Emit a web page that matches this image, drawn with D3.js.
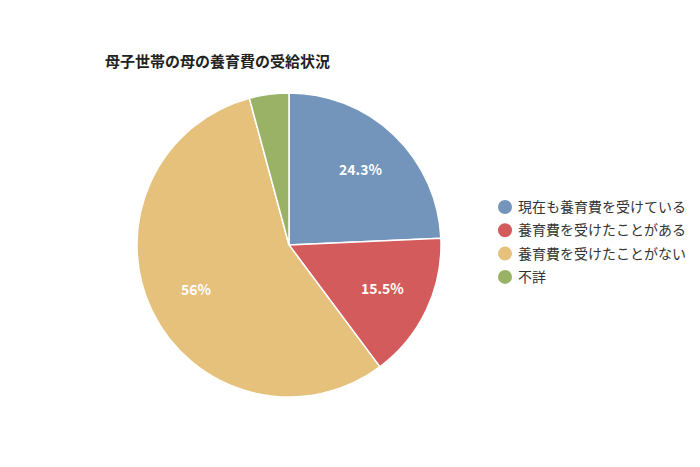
<!DOCTYPE html><html><head><meta charset="utf-8">
<script src="https://cdn.jsdelivr.net/npm/d3@7"></script>
<style>body{margin:0;background:#fff}text{font-family:"Noto Sans CJK JP",sans-serif}</style></head><body>
<svg id="c" width="700" height="467"></svg>
<script>
const categories=["現在も養育費を受けている","養育費を受けたことがある","養育費を受けたことがない","不詳"];
const values=[24.3,15.5,56,4.2];
const labels=["24.3%","15.5%","56%",""];
const colors=["#7394bb","#d45b5b","#e5c17c","#99b265"];
const svg=d3.select("#c");
svg.append("text").attr("x",105).attr("y",67).attr("font-size",15).attr("font-weight","bold").attr("fill","#222").text("母子世帯の母の養育費の受給状況");
const cx=289,cy=245,r=152;
const pie=d3.pie().sort(null).value(d=>d)(values);
const arc=d3.arc().innerRadius(0).outerRadius(r);
const la=d3.arc().innerRadius(r*0.68).outerRadius(r*0.68);
const g=svg.append("g").attr("transform",`translate(${cx},${cy})`);
g.selectAll("path").data(pie).join("path").attr("d",arc).attr("fill",(d,i)=>colors[i]).attr("stroke","#fff").attr("stroke-width",1.5);
g.selectAll("text").data(pie).join("text").attr("transform",d=>`translate(${la.centroid(d)})`).attr("text-anchor","middle").attr("dy","0.35em").attr("font-size",14).attr("font-weight","bold").attr("fill","#fff").text((d,i)=>labels[i]);
const lg=svg.append("g");
categories.forEach((c,i)=>{const y=207+i*23.3;
lg.append("circle").attr("cx",505).attr("cy",y).attr("r",7).attr("fill",colors[i]);
lg.append("text").attr("x",518).attr("y",y).attr("dy","0.35em").attr("font-size",14).attr("fill","#333").text(c);});
</script></body></html>
